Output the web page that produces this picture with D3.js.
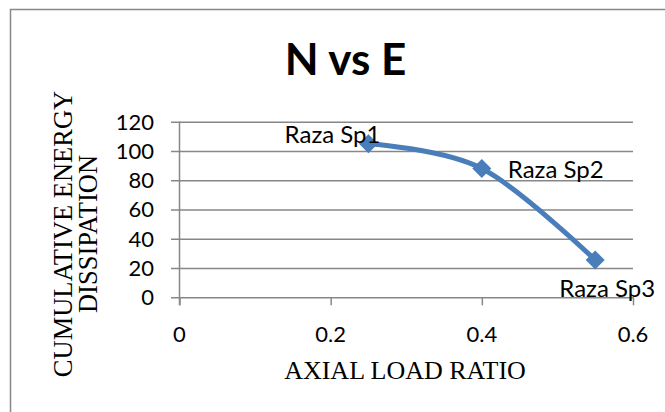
<!DOCTYPE html>
<html>
<head>
<meta charset="utf-8">
<script src="https://cdn.jsdelivr.net/npm/d3@7"></script>
<style>
  html, body { margin: 0; padding: 0; background: #fff; }
  svg { display: block; }
</style>
</head>
<body>
<svg id="chart" width="665" height="412"></svg>
<script>
// Specimen data: axial load ratio vs cumulative energy dissipation
const specimens = ["Raza Sp1", "Raza Sp2", "Raza Sp3"];
const axialLoadRatio = [0.25, 0.4, 0.55];
const energyDissipation = [105, 88, 25.5];
const xTicks = [0, 0.2, 0.4, 0.6];
const yTicks = [0, 20, 40, 60, 80, 100, 120];

const svg = d3.select("#chart");
const W = 665, H = 412;

const gridColor = "#878787";
const seriesColor = "#4a7ebb";
const sansFont = "Lato, 'Open Sans', sans-serif";
const serifFont = "'Liberation Serif', 'DejaVu Serif', serif";

// outer chart border (runs off the right and bottom edges)
svg.append("rect")
  .attr("x", 10.5).attr("y", 9.5)
  .attr("width", W + 20).attr("height", H + 20)
  .attr("fill", "#fff")
  .attr("stroke", gridColor).attr("stroke-width", 1.5);

const x = d3.scaleLinear().domain([0, 0.6]).range([179.5, 633]);
const y = d3.scaleLinear().domain([0, 120]).range([297.3, 121.7]);

// horizontal gridlines with left tick stubs
const yAxis = d3.axisLeft(y)
  .tickValues(yTicks)
  .tickSize(x(0.6) - 171)
  .tickFormat("");
svg.append("g")
  .attr("transform", `translate(${x(0.6)},0)`)
  .call(yAxis)
  .call(g => g.select(".domain").remove())
  .call(g => g.selectAll(".tick line").attr("stroke", gridColor).attr("stroke-width", 1.5));

// y tick labels
svg.append("g").selectAll("text")
  .data(yTicks)
  .join("text")
  .attr("x", 154)
  .attr("y", d => y(d))
  .attr("dy", "0.36em")
  .attr("text-anchor", "end")
  .attr("font-family", sansFont)
  .attr("font-size", 22)
  .attr("fill", "#000")
  .text(d => d);

// vertical axis line and bottom tick marks
const xAxis = d3.axisBottom(x)
  .tickValues(xTicks)
  .tickSize(8)
  .tickFormat("");
svg.append("g")
  .attr("transform", `translate(0,${y(0)})`)
  .call(xAxis)
  .call(g => g.select(".domain").remove())
  .call(g => g.selectAll(".tick line").attr("stroke", gridColor).attr("stroke-width", 1.5));

svg.append("line")
  .attr("x1", x(0)).attr("x2", x(0))
  .attr("y1", y(120)).attr("y2", y(0) + 8)
  .attr("stroke", gridColor).attr("stroke-width", 1.5);

// x tick labels
svg.append("g").selectAll("text")
  .data(xTicks)
  .join("text")
  .attr("x", d => x(d))
  .attr("y", 334.5)
  .attr("dy", "0.36em")
  .attr("text-anchor", "middle")
  .attr("font-family", sansFont)
  .attr("font-size", 22)
  .attr("fill", "#000")
  .text(d => d);

// smoothed series line
const points = axialLoadRatio.map((v, i) => ({ x: v, y: energyDissipation[i], name: specimens[i] }));
const line = d3.line()
  .x(d => x(d.x))
  .y(d => y(d.y))
  .curve(d3.curveCardinal.tension(0));
svg.append("path")
  .datum(points)
  .attr("d", line)
  .attr("fill", "none")
  .attr("stroke", seriesColor)
  .attr("stroke-width", 5)
  .attr("stroke-linejoin", "round");

// diamond markers
const r = 9.5;
svg.append("g").selectAll("path")
  .data(points)
  .join("path")
  .attr("d", d => {
    const cx = x(d.x), cy = y(d.y);
    return `M${cx},${cy - r}L${cx + r},${cy}L${cx},${cy + r}L${cx - r},${cy}Z`;
  })
  .attr("fill", seriesColor);

// data labels: left, right, below
const labelOffsets = [
  { dx: 12, dy: -1, anchor: "end" },
  { dx: 26, dy: 9, anchor: "start" },
  { dx: 12, dy: 37, anchor: "middle" }
];
svg.append("g").selectAll("text")
  .data(points)
  .join("text")
  .attr("x", (d, i) => x(d.x) + labelOffsets[i].dx)
  .attr("y", (d, i) => y(d.y) + labelOffsets[i].dy)
  .attr("text-anchor", (d, i) => labelOffsets[i].anchor)
  .attr("font-family", sansFont)
  .attr("font-size", 24)
  .attr("fill", "#000")
  .text(d => d.name);

// title
svg.append("text")
  .attr("x", 345.5).attr("y", 75)
  .attr("text-anchor", "middle")
  .attr("font-family", sansFont)
  .attr("font-weight", "bold")
  .attr("font-size", 44)
  .attr("fill", "#000")
  .text("N vs E");

// x axis title
svg.append("text")
  .attr("x", 405).attr("y", 379)
  .attr("text-anchor", "middle")
  .attr("font-family", serifFont)
  .attr("font-size", 26)
  .attr("fill", "#000")
  .text("AXIAL LOAD RATIO");

// y axis title, two lines
const yTitle = svg.append("text")
  .attr("transform", "translate(0,234) rotate(-90)")
  .attr("text-anchor", "middle")
  .attr("font-family", serifFont)
  .attr("font-size", 26.5)
  .attr("fill", "#000");
yTitle.append("tspan").attr("x", 0).attr("y", 72).text("CUMULATIVE ENERGY");
yTitle.append("tspan").attr("x", 0).attr("y", 97).text("DISSIPATION");
</script>
</body>
</html>
